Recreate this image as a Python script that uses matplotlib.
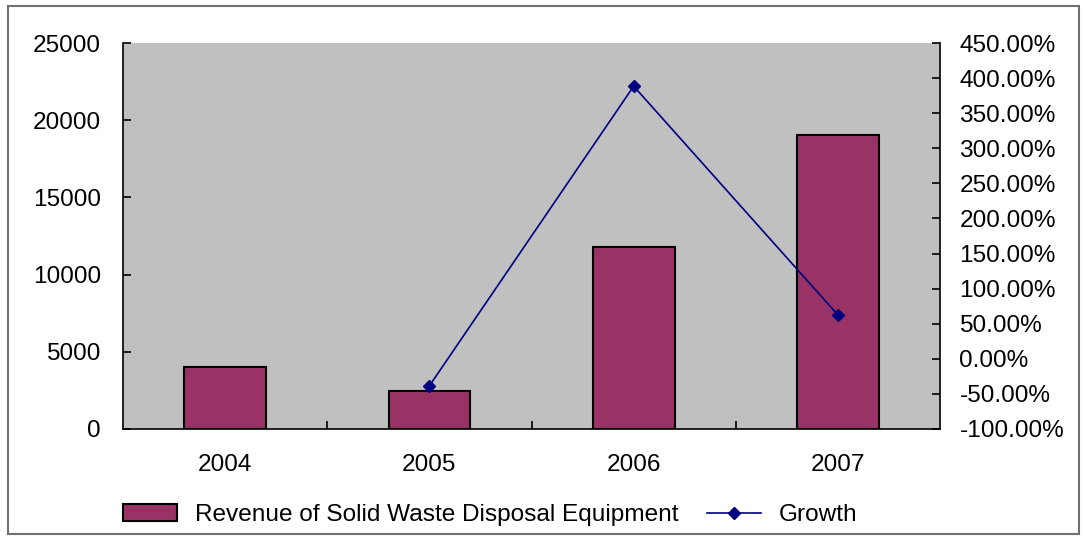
import matplotlib.pyplot as plt
from matplotlib.patches import Rectangle
from matplotlib.ticker import FuncFormatter

plt.rcParams['font.family'] = ['Liberation Sans', 'DejaVu Sans']

# data
years = ['2004', '2005', '2006', '2007']
revenue = [4000, 2450, 11770, 19050]
growth_years = ['2005', '2006', '2007']
growth = [-38.5, 388.5, 62.5]  # percent

fs = 17.6

fig = plt.figure(figsize=(10.83, 5.39), dpi=100)
ax = fig.add_axes([0.1136, 0.2041, 0.7544, 0.7161])
ax.set_facecolor('#C0C0C0')

x = range(len(years))
bars = ax.bar(x, revenue, width=0.4, color='#993366', edgecolor='black',
              linewidth=1.5, label='Revenue of Solid Waste Disposal Equipment', zorder=2)
ax.set_xlim(-0.5, len(years) - 0.5)
ax.set_ylim(0, 25000)
ax.set_yticks(range(0, 25001, 5000))
ax.set_xticks(list(x))
ax.set_xticklabels(years)
ax.set_xticks([i + 0.5 for i in range(len(years) - 1)], minor=True)
ax.tick_params(axis='x', which='major', length=0, pad=18, labelsize=fs)
ax.tick_params(axis='x', which='minor', direction='in', length=6, width=1.2)
ax.tick_params(axis='y', direction='in', length=6, width=1.2, labelsize=fs, pad=16)
for s in ['top', 'right']:
    ax.spines[s].set_visible(False)
for s in ['left', 'bottom']:
    ax.spines[s].set_linewidth(1.2)

ax2 = ax.twinx()
gx = [years.index(y) for y in growth_years]
line, = ax2.plot(gx, growth, color='#000080', linewidth=1.2, marker='D',
                 markersize=6, label='Growth', zorder=3)
ax2.set_ylim(-100, 450)
ax2.set_yticks(range(-100, 451, 50))
ax2.yaxis.set_major_formatter(FuncFormatter(lambda v, p: '%.2f%%' % v))
ax2.tick_params(axis='y', direction='in', length=6, width=1.2, labelsize=fs, pad=14)
for s in ['top', 'left', 'bottom']:
    ax2.spines[s].set_visible(False)
ax2.spines['right'].set_linewidth(1.2)

fig.legend([bars, line], [bars.get_label(), 'Growth'], loc='center',
           bbox_to_anchor=(0.453, 0.044), ncol=2, frameon=False, fontsize=fs,
           handlelength=2.2, handletextpad=0.75, columnspacing=1.15)

fig.patches.append(Rectangle((8 / 1083, 5 / 539), 1071 / 1083, 528 / 539,
                             transform=fig.transFigure, fill=False,
                             edgecolor='#707070', linewidth=1.5))

fig.savefig('out.png', dpi=100)
